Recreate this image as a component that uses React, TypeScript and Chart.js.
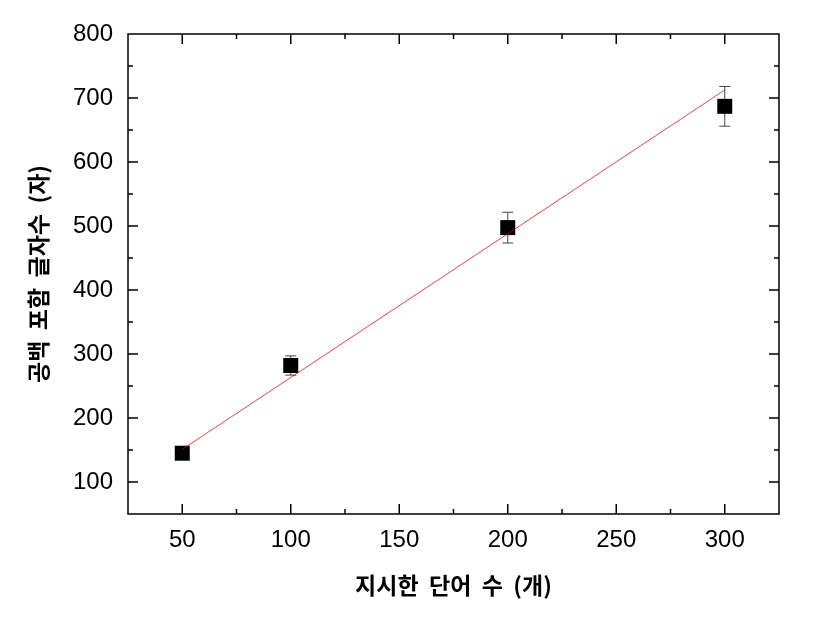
import React, { useEffect, useRef } from "react";
import { Chart, registerables } from "chart.js";

Chart.register(...registerables);

const wordCounts = [50, 100, 200, 300];
const charCounts = [145, 282, 497.5, 687];
const charErrors = [5, 15, 24, 31];
const fitX = [50, 300];
const fitY = [151, 712.5];
const xTickLabels = [50, 100, 150, 200, 250, 300];
const yTickLabels = [100, 200, 300, 400, 500, 600, 700, 800];
const xTitle = "지시한  단어  수  (개)";
const yTitle = "공백  포함  글자수  (자)";

const frameTicksPlugin = {
  id: "frameTicks",
  beforeDatasetsDraw(chart: any) {
    const ctx = chart.ctx;
    const xs = chart.scales.x;
    const ys = chart.scales.y;
    ctx.save();
    ctx.strokeStyle = "#444";
    ctx.lineWidth = 1;
    wordCounts.forEach((xv, i) => {
      const px = xs.getPixelForValue(xv);
      const top = ys.getPixelForValue(charCounts[i] + charErrors[i]);
      const bot = ys.getPixelForValue(charCounts[i] - charErrors[i]);
      ctx.beginPath();
      ctx.moveTo(px, top);
      ctx.lineTo(px, bot);
      ctx.moveTo(px - 5.5, top);
      ctx.lineTo(px + 5.5, top);
      ctx.moveTo(px - 5.5, bot);
      ctx.lineTo(px + 5.5, bot);
      ctx.stroke();
    });
    ctx.restore();
  },
  afterDraw(chart: any) {
    const ctx = chart.ctx;
    const { left, right, top, bottom } = chart.chartArea;
    const xs = chart.scales.x;
    const ys = chart.scales.y;
    ctx.save();
    ctx.strokeStyle = "#000";
    ctx.lineWidth = 1.5;
    ctx.strokeRect(left, top, right - left, bottom - top);
    ctx.beginPath();
    const xStep = xTickLabels[1] - xTickLabels[0];
    const xMinor: number[] = [];
    xTickLabels.forEach((v) => {
      xMinor.push(v - xStep / 2);
      xMinor.push(v + xStep / 2);
    });
    xTickLabels.forEach((v) => {
      const px = xs.getPixelForValue(v);
      ctx.moveTo(px, bottom);
      ctx.lineTo(px, bottom - 10);
      ctx.moveTo(px, top);
      ctx.lineTo(px, top + 10);
    });
    Array.from(new Set(xMinor)).forEach((v) => {
      if (v <= xs.min || v >= xs.max) return;
      const px = xs.getPixelForValue(v);
      ctx.moveTo(px, bottom);
      ctx.lineTo(px, bottom - 5);
      ctx.moveTo(px, top);
      ctx.lineTo(px, top + 5);
    });
    const yStep = yTickLabels[1] - yTickLabels[0];
    const yMinor: number[] = [];
    yTickLabels.forEach((v) => {
      yMinor.push(v - yStep / 2);
      yMinor.push(v + yStep / 2);
    });
    yTickLabels.forEach((v) => {
      if (v <= ys.min || v >= ys.max) return;
      const py = ys.getPixelForValue(v);
      ctx.moveTo(left, py);
      ctx.lineTo(left + 10, py);
      ctx.moveTo(right, py);
      ctx.lineTo(right - 10, py);
    });
    Array.from(new Set(yMinor)).forEach((v) => {
      if (v <= ys.min || v >= ys.max) return;
      const py = ys.getPixelForValue(v);
      ctx.moveTo(left, py);
      ctx.lineTo(left + 5, py);
      ctx.moveTo(right, py);
      ctx.lineTo(right - 5, py);
    });
    ctx.stroke();
    ctx.restore();
  },
};

export default function App() {
  const ref = useRef<HTMLCanvasElement>(null);
  useEffect(() => {
    if (!ref.current) return;
    const tickFont = { family: "'Liberation Sans', Arial, sans-serif", size: 24 };
    const titleFont = { family: "'Noto Sans CJK KR', sans-serif", size: 23, weight: "bold" as const };
    const chart = new Chart(ref.current, {
      type: "scatter",
      data: {
        datasets: [
          {
            type: "line",
            data: fitX.map((x, i) => ({ x, y: fitY[i] })),
            borderColor: "rgba(205,0,0,0.8)",
            borderWidth: 0.9,
            pointRadius: 0,
            fill: false,
            order: 0,
          } as any,
          {
            data: wordCounts.map((x, i) => ({ x, y: charCounts[i] })),
            pointStyle: "rect",
            pointRadius: 10.6,
            pointHoverRadius: 10.6,
            backgroundColor: "#000",
            borderColor: "#000",
            borderWidth: 0,
            order: 1,
          },
        ],
      },
      options: {
        animation: false,
        responsive: false,
        devicePixelRatio: 1,
        layout: { padding: { top: 34, right: 46, bottom: 0, left: 0 } },
        plugins: { legend: { display: false }, tooltip: { enabled: false } },
        scales: {
          x: {
            type: "linear",
            min: 25,
            max: 325,
            grid: { display: false, drawTicks: false },
            border: { display: false },
            afterBuildTicks: (s: any) => {
              s.ticks = xTickLabels.map((v) => ({ value: v }));
            },
            afterFit: (s: any) => {
              s.height = 111;
            },
            ticks: { color: "#000", font: tickFont, padding: 12, maxRotation: 0, autoSkip: false },
            title: {
              display: true,
              text: xTitle,
              color: "#000",
              font: titleFont,
              padding: { top: 0, bottom: 26 },
            },
          },
          y: {
            type: "linear",
            min: 50,
            max: 800,
            grid: { display: false, drawTicks: false },
            border: { display: false },
            afterBuildTicks: (s: any) => {
              s.ticks = yTickLabels.map((v) => ({ value: v }));
            },
            afterFit: (s: any) => {
              s.width = 128;
            },
            ticks: { color: "#000", font: tickFont, padding: 15, autoSkip: false },
            title: {
              display: true,
              text: yTitle,
              color: "#000",
              font: titleFont,
              padding: { top: 24, bottom: 0 },
            },
          },
        },
      },
      plugins: [frameTicksPlugin],
    });
    return () => chart.destroy();
  }, []);
  return (
    <div style={{ position: "absolute", left: 0, top: 0, width: 825, height: 625, background: "#fff" }}>
      <canvas ref={ref} width={825} height={625} />
    </div>
  );
}
